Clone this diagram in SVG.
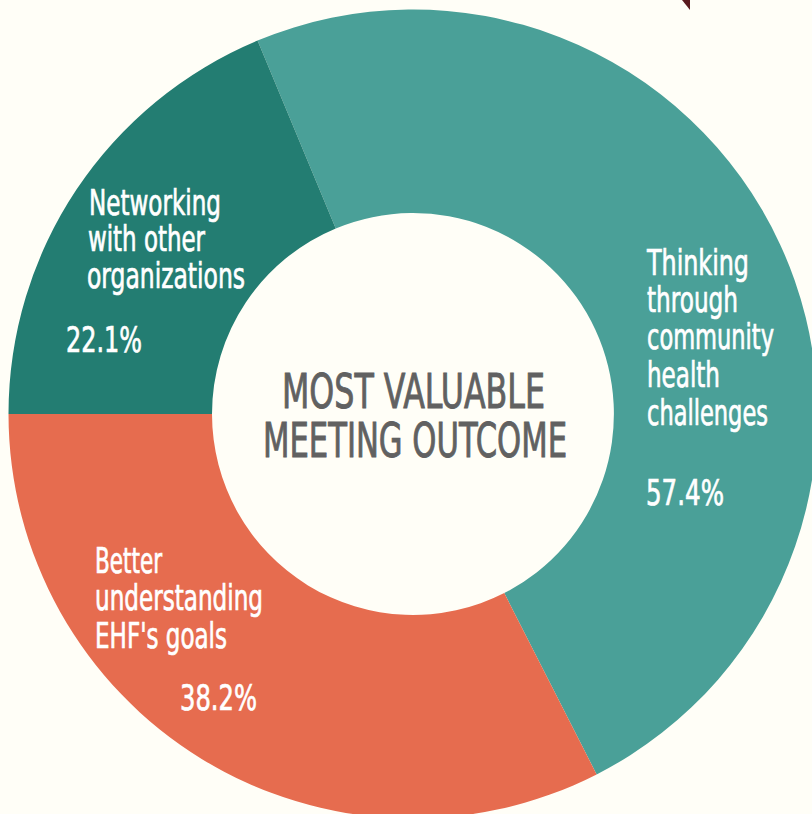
<svg xmlns="http://www.w3.org/2000/svg" width="812" height="814" viewBox="0 0 812 814">
  <style>
    .lbl { font-family: "Liberation Sans Narrow", "DejaVu Sans Condensed", "Liberation Sans", sans-serif; font-size: 36px; fill: #FFFFFF; stroke: #FFFFFF; stroke-width: 0.7px; }
    .title { font-family: "Liberation Sans Narrow", "DejaVu Sans Condensed", "Liberation Sans", sans-serif; font-size: 48px; fill: #616161; stroke: #616161; stroke-width: 0.9px; text-anchor: middle; }
  </style>
  <rect x="0" y="0" width="812" height="814" fill="#FFFEF7"/>
  <polygon points="682,0 690,0 690,10" fill="#5A1A1E"/>

  <g id="thinking">
    <path d="M 257.55 40.57 A 404.5 404.5 0 0 1 596.64 774.41 L 504.25 593.09 A 201 201 0 0 0 335.76 228.44 Z" fill="#4AA098"/>
    <text class="lbl" x="647" y="275" textLength="102" lengthAdjust="spacingAndGlyphs">Thinking</text>
    <text class="lbl" x="647" y="312" textLength="91" lengthAdjust="spacingAndGlyphs">through</text>
    <text class="lbl" x="647" y="349" textLength="127" lengthAdjust="spacingAndGlyphs">community</text>
    <text class="lbl" x="647" y="387" textLength="73" lengthAdjust="spacingAndGlyphs">health</text>
    <text class="lbl" x="647" y="425" textLength="121" lengthAdjust="spacingAndGlyphs">challenges</text>
    <text class="lbl" x="646" y="505" textLength="78" lengthAdjust="spacingAndGlyphs">57.4%</text>
  </g>

  <g id="better">
    <path d="M 596.64 774.41 A 404.5 404.5 0 0 1 8.5 414 L 212 414 A 201 201 0 0 0 504.25 593.09 Z" fill="#E66C4F"/>
    <text class="lbl" x="95" y="573" textLength="67" lengthAdjust="spacingAndGlyphs">Better</text>
    <text class="lbl" x="95" y="610" textLength="168" lengthAdjust="spacingAndGlyphs">understanding</text>
    <text class="lbl" x="95" y="648" textLength="132" lengthAdjust="spacingAndGlyphs">EHF's goals</text>
    <text class="lbl" x="180" y="710" textLength="77" lengthAdjust="spacingAndGlyphs">38.2%</text>
  </g>

  <g id="networking">
    <path d="M 8.5 414 A 404.5 404.5 0 0 1 257.55 40.57 L 335.76 228.44 A 201 201 0 0 0 212 414 Z" fill="#237D72"/>
    <text class="lbl" x="89" y="215" textLength="132" lengthAdjust="spacingAndGlyphs">Networking</text>
    <text class="lbl" x="88" y="251" textLength="117" lengthAdjust="spacingAndGlyphs">with other</text>
    <text class="lbl" x="87" y="288" textLength="158" lengthAdjust="spacingAndGlyphs">organizations</text>
    <text class="lbl" x="66" y="352" textLength="76" lengthAdjust="spacingAndGlyphs">22.1%</text>
  </g>

  <g id="center-title">
    <text class="title" x="413.5" y="408" textLength="263" lengthAdjust="spacingAndGlyphs">MOST VALUABLE</text>
    <text class="title" x="415" y="457" textLength="304" lengthAdjust="spacingAndGlyphs">MEETING OUTCOME</text>
  </g>

  <g id="connectors"></g>
</svg>
